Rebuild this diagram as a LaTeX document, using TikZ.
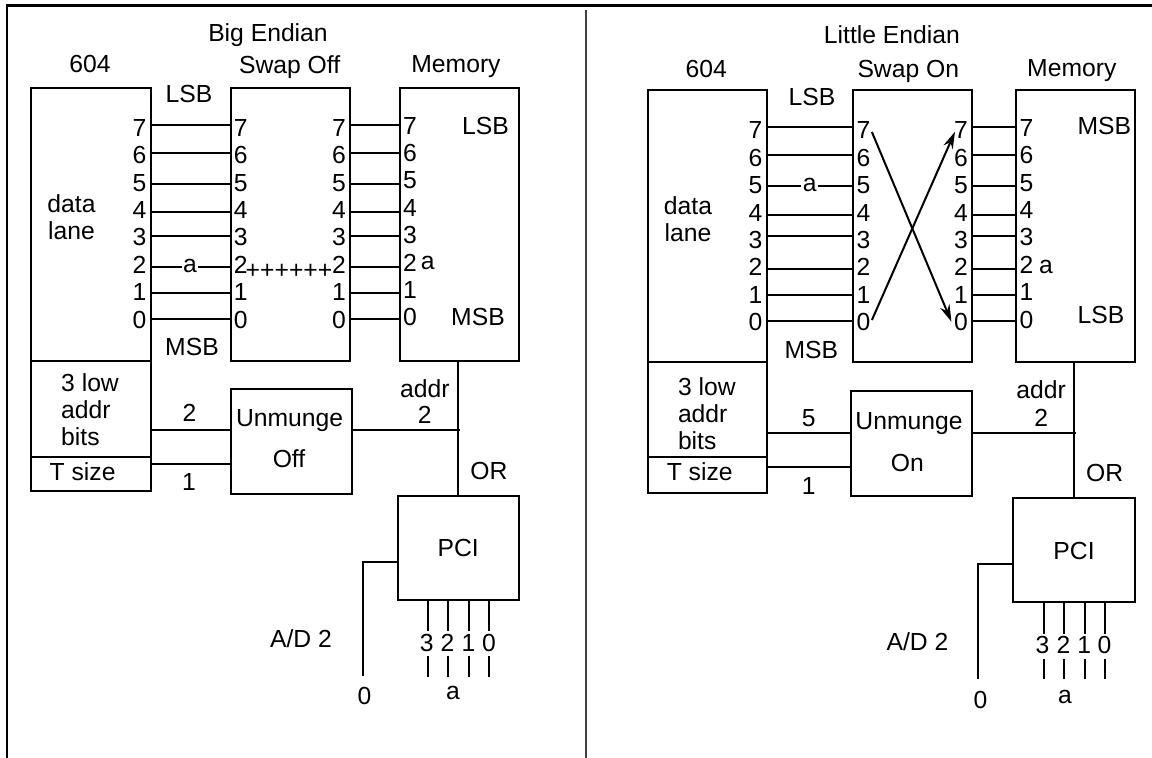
\documentclass[tikz,border=0pt]{standalone}
\usepackage{fontspec}
\setmainfont{Liberation Sans}
\usetikzlibrary{arrows.meta}
\tikzset{
  wire/.style={line width=2pt,line cap=butt},
  frameline/.style={line width=2.6pt},
  box/.style={draw,line width=2pt,inner sep=0pt,anchor=north west,font=\fontsize{24.7}{27}\selectfont,text height=17.7pt,text depth=0pt},
  lbl/.style={inner sep=0pt,font=\fontsize{24.7}{27}\selectfont,text height=17.7pt,text depth=0pt},
  multi/.style={inner sep=0pt,font=\fontsize{24.7}{27}\selectfont,align=left},
  multic/.style={inner sep=0pt,font=\fontsize{24.7}{27}\selectfont,align=center},
  onwire/.style={lbl,fill=white,inner xsep=1.5pt,inner ysep=0pt,text height=12.5pt},
  swaparrow/.style={wire,-{Stealth[length=17pt,width=10pt]}},
}
\begin{document}
\begin{tikzpicture}[x=1pt,y=-1pt]
\useasboundingbox (0,0) rectangle (1152,758);
% outer frame and divider
\coordinate (fTL) at (7,5.5);
\coordinate (fTR) at (1152,5.5);
\coordinate (fBL) at (7,758);
\coordinate (dT) at (585.5,10);
\coordinate (dB) at (585.5,758);
\draw[frameline] (fBL) -- (fTL) -- (fTR);
\draw[line width=2pt,black!75] (dT) -- (dB);

% ===== LEFT PANEL =====
\node[box,minimum width=119.5pt,minimum height=273pt] (Lcpu) at (30,87) {};
\node[box,minimum width=119.5pt,minimum height=96pt] (Laddr) at (30,360) {};
\node[box,minimum width=119.5pt,minimum height=34pt] (Ltsize) at (30,456) {};
\node[box,minimum width=118.5pt,minimum height=273pt] (Lswap) at (230,87) {};
\node[box,minimum width=119pt,minimum height=273pt] (Lmem) at (399,87) {};
\node[box,minimum width=121pt,minimum height=104.5pt] (Lun) at (230.4,388) {};
\node[box,minimum width=121pt,minimum height=104.5pt] (Lpci) at (396.7,494.7) {PCI};

\node[lbl] (Ltitle) at (268,33) {Big Endian};
\node[lbl] (Lt604) at (90,64) {604};
\node[lbl] (Ltswap) at (289.6,65) {Swap Off};
\node[lbl] (Ltmem) at (456,64) {Memory};
\node[lbl] (Llsb) at (189,94) {LSB};
\node[lbl] (Lmsb) at (192,346.7) {MSB};
\node[lbl] (Lmlsb) at (485.5,125.7) {LSB};
\node[lbl] (Lmmsb) at (478,316.7) {MSB};
\node[multic] (Ldata) at (71.5,217) {data\\lane};
\node[multi] (Llow) at (61,410) [anchor=west] {3 low\\addr\\bits};
\node[lbl] (Lts) at (82.6,471.7) {T size};
\node[lbl] (Lplus) at (289,270) {++++++};
\node[lbl,text height=12.5pt] (Lma) at (427.8,263) {a};
\node[lbl] (Lun1) at (289.6,418) {Unmunge};
\node[lbl] (Lun2) at (289,459) {Off};
\node[lbl] (Ln2) at (189.6,412.7) {2};
\node[lbl] (Ln1) at (189,481.7) {1};
\node[lbl] (Laddrl) at (424.8,388.3) {addr};
\node[lbl] (Laddr2) at (424.8,414.3) {2};
\node[lbl] (Lor) at (489,470.7) {OR};
\node[lbl] (Lad) at (301,638.3) {A/D 2};
\node[lbl] (Lz) at (364.4,696) {0};
\node[lbl,text height=12.5pt] (Lpa) at (453,693) {a};

\foreach \d/\w/\yl/\ym in {7/124.5/127.7/126,6/153/155/153,5/183.5/183/180,4/212/210/208,3/236/237/235,2/266.5/265/263,1/292.5/292/290,0/319/320/317}{
  \node[lbl] (Lc\d) at (139.6,\yl) {\d};
  \node[lbl] (Lsl\d) at (240.7,\yl) {\d};
  \node[lbl] (Lsr\d) at (339,\yl) {\d};
  \node[lbl] (Lm\d) at (410,\ym) {\d};
  \coordinate (Lw\d) at (0,\w);
  \draw[wire] (Lcpu.east |- Lw\d) -- (Lswap.west |- Lw\d);
  \draw[wire] (Lswap.east |- Lw\d) -- (Lmem.west |- Lw\d);
}
\node[onwire] (La) at (190,266.5) {a};

\coordinate (Lw5l) at (0,430.3);
\coordinate (Lw5t) at (0,464.3);
\coordinate (Lbus) at (457.8,0);
\coordinate (Ljn) at (459.5,430.3);
\coordinate (Lbot) at (457.8,496);
\draw[wire] (Laddr.east |- Lw5l) -- (Lun.west |- Lw5l);
\draw[wire] (Ltsize.east |- Lw5t) -- (Lun.west |- Lw5t);
\draw[wire] (Lun.east |- Lw5l) -- (Ljn);
\draw[wire] (Lbus |- Lmem.south) -- (Lbot);
\coordinate (Lad1) at (362.6,562.3);
\coordinate (Lad2) at (362.6,676);
\draw[wire] (Lpci.west |- Lad1) -- (Lad1) -- (Lad2);
\foreach \n/\xl/\xt in {3/428/426.7,2/448/447.4,1/469/468.5,0/489/489}{
  \node[lbl] (Lp\n) at (\xt,642.3) {\n};
  \coordinate (Lt\n a) at (\xl,631);
  \coordinate (Lt\n b) at (\xl,656);
  \coordinate (Lt\n c) at (\xl,676.7);
  \draw[wire] (Lpci.south -| Lt\n a) -- (Lt\n a);
  \draw[wire] (Lt\n b) -- (Lt\n c);
}

% ===== RIGHT PANEL =====
\node[box,minimum width=118.9pt,minimum height=272.6pt] (Rcpu) at (646.8,88.7) {};
\node[box,minimum width=118.9pt,minimum height=94.7pt] (Raddr) at (646.8,361.3) {};
\node[box,minimum width=118.9pt,minimum height=36.3pt] (Rtsize) at (646.8,456) {};
\node[box,minimum width=118.8pt,minimum height=272.6pt] (Rswap) at (852.2,88.7) {};
\node[box,minimum width=119pt,minimum height=272.6pt] (Rmem) at (1014.6,88.7) {};
\node[box,minimum width=121.4pt,minimum height=104.4pt] (Run) at (849.6,390.3) {};
\node[box,minimum width=121.5pt,minimum height=104.3pt] (Rpci) at (1012.3,497) {PCI};

\node[lbl] (Rtitle) at (891.9,34.3) {Little Endian};
\node[lbl] (Rt604) at (706.2,68.3) {604};
\node[lbl] (Rtswap) at (908.3,68.5) {Swap On};
\node[lbl] (Rtmem) at (1071.8,67.5) {Memory};
\node[lbl] (Rlsb) at (812,97) {LSB};
\node[lbl] (Rmsb) at (811.3,349.3) {MSB};
\node[lbl] (Rmmsb) at (1104.3,125.7) {MSB};
\node[lbl] (Rmlsb) at (1101,314.3) {LSB};
\node[multic] (Rdata) at (688,219.5) {data\\lane};
\node[multi] (Rlow) at (677.8,413.7) [anchor=west] {3 low\\addr\\bits};
\node[lbl] (Rts) at (699.7,471.7) {T size};
\node[lbl,text height=12.5pt] (Rma) at (1045.9,267) {a};
\node[lbl] (Run1) at (909,420.7) {Unmunge};
\node[lbl] (Run2) at (907.3,462.3) {On};
\node[lbl] (Rn5) at (808.7,417.7) {5};
\node[lbl] (Rn1) at (808.7,485.7) {1};
\node[lbl] (Raddrl) at (1041.2,389.3) {addr};
\node[lbl] (Raddr2) at (1041.2,417.3) {2};
\node[lbl] (Ror) at (1104.6,473) {OR};
\node[lbl] (Rad) at (917.5,641.7) {A/D 2};
\node[lbl] (Rz) at (980.6,700) {0};
\node[lbl,text height=12.5pt] (Rpa) at (1064.9,697) {a};

\foreach \d/\w/\yl/\ym in {7/126.7/130/127.7,6/155/157.7/155,5/185.7/185/183,4/214.7/212.7/210,3/236.3/239.3/237,2/268.7/267/265,1/295/294.7/292,0/321.3/322/320}{
  \node[lbl] (Rc\d) at (755.5,\yl) {\d};
  \node[lbl] (Rsl\d) at (863.5,\yl) {\d};
  \node[lbl] (Rsr\d) at (960.9,\yl) {\d};
  \node[lbl] (Rm\d) at (1026.4,\ym) {\d};
  \coordinate (Rw\d) at (0,\w);
  \draw[wire] (Rcpu.east |- Rw\d) -- (Rswap.west |- Rw\d);
  \draw[wire] (Rswap.east |- Rw\d) -- (Rmem.west |- Rw\d);
}
\node[onwire] (Ra) at (809.8,185.7) {a};

\coordinate (Xa) at (871.9,132);
\coordinate (Xb) at (951.4,321.7);
\coordinate (Xc) at (871.9,320);
\coordinate (Xd) at (955,131.7);
\draw[swaparrow] (Xa) -- (Xb);
\draw[swaparrow] (Xc) -- (Xd);

\coordinate (Rw5l) at (0,432.7);
\coordinate (Rw5t) at (0,466.7);
\coordinate (Rbus) at (1073.6,0);
\coordinate (Rjn) at (1075.6,432.7);
\coordinate (Rbot) at (1073.6,498.7);
\draw[wire] (Raddr.east |- Rw5l) -- (Run.west |- Rw5l);
\draw[wire] (Rtsize.east |- Rw5t) -- (Run.west |- Rw5t);
\draw[wire] (Run.east |- Rw5l) -- (Rjn);
\draw[wire] (Rbus |- Rmem.south) -- (Rbot);
\coordinate (Rad1) at (978.4,564.3);
\coordinate (Rad2) at (978.4,678.7);
\draw[wire] (Rpci.west |- Rad1) -- (Rad1) -- (Rad2);
\foreach \n/\xl/\xt in {3/1044/1042.6,2/1063.8/1063.4,1/1084.9/1084.2,0/1104.6/1104.6}{
  \node[lbl] (Rp\n) at (\xt,645) {\n};
  \coordinate (Rt\n a) at (\xl,634);
  \coordinate (Rt\n b) at (\xl,659);
  \coordinate (Rt\n c) at (\xl,679);
  \draw[wire] (Rpci.south -| Rt\n a) -- (Rt\n a);
  \draw[wire] (Rt\n b) -- (Rt\n c);
}
\end{tikzpicture}
\end{document}
